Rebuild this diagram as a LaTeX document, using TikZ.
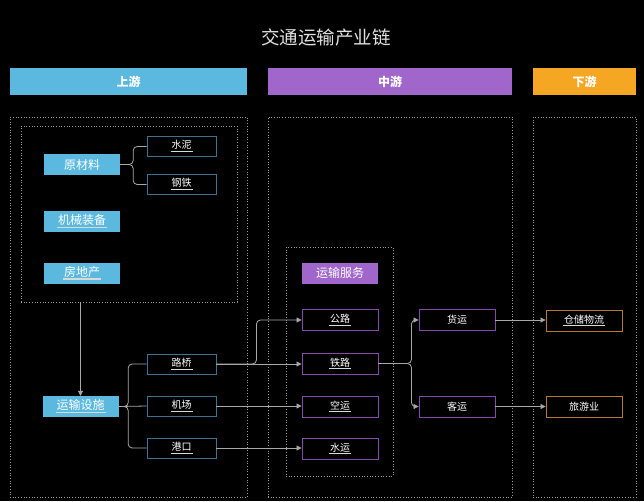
\documentclass[tikz,border=0pt]{standalone}
\usepackage{fontspec}
\setmainfont{Noto Sans CJK SC}
\usetikzlibrary{arrows.meta}
\definecolor{upc}{HTML}{5BB8DE}
\definecolor{midc}{HTML}{A066CC}
\definecolor{downc}{HTML}{F5A623}
\definecolor{upline}{HTML}{3B7391}
\definecolor{midline}{HTML}{8249AD}
\definecolor{downline}{HTML}{B57A2E}
\definecolor{conn}{HTML}{A8A8A8}
\definecolor{dotc}{HTML}{9A9A9A}
\newcommand\ulx[1]{\setbox0\hbox{#1}\leavevmode\rlap{\hspace{-1pt}\raisebox{-3.4pt}{\color{white!85!black}\rule{\dimexpr\wd0+2pt\relax}{1.4pt}}}\box0}
\tikzset{
  x=1pt,y=-1pt,
  bigtxt/.style={font=\fontsize{12}{12}\selectfont},
  smalltxt/.style={font=\fontsize{10}{10}\selectfont},
  bluebox/.style={fill=upc,text=white,minimum width=76,minimum height=21,inner sep=0,bigtxt},
  upbox/.style={draw=upline,line width=0.9pt,fill=black,text=white,minimum width=69,minimum height=20,inner sep=0,smalltxt},
  purplebox/.style={draw=midline,line width=0.9pt,fill=black,text=white,minimum width=76,minimum height=21,inner sep=0,smalltxt},
  orangebox/.style={draw=downline,line width=0.9pt,fill=black,text=white,minimum width=76,minimum height=21,inner sep=0,smalltxt},
  header/.style={text=white,minimum height=27,inner sep=0,font=\bfseries\fontsize{12}{12}\selectfont},
  dotbox/.style={draw=dotc,dotted,line width=0.7pt,inner sep=0},
  conline/.style={draw=conn,line width=0.8pt},
  arr/.style={conline,-{Triangle[length=5pt,width=5pt]}},
}
\begin{document}
\begin{tikzpicture}
\fill[black] (0,0) rectangle (644,501);
\useasboundingbox (0,0) rectangle (644,501);
% title
\node[text=white!88!black,font=\fontsize{18.5}{18.5}\selectfont] (title) at (326,37) {交通运输产业链};
% headers
\node[header,fill=upc,minimum width=237] (hup) at (128.5,81.5) {上游};
\node[header,fill=midc,minimum width=244] (hmid) at (390,81.5) {中游};
\node[header,fill=downc,minimum width=103] (hdown) at (584.5,81.5) {下游};
% column boxes
\node[dotbox,minimum width=237,minimum height=380] (colup) at (128.5,307) {};
\node[dotbox,minimum width=244,minimum height=380] (colmid) at (390,307) {};
\node[dotbox,minimum width=103,minimum height=380] (coldown) at (584.5,307) {};
\node[dotbox,minimum width=216,minimum height=176] (inbox) at (129,214) {};
\node[dotbox,minimum width=107,minimum height=229] (midbox) at (339.5,361.5) {};
% upstream nodes
\node[bluebox] (ycl) at (82,164.5) {原材料};
\node[upbox] (sn) at (181.5,146.5) {\ulx{水泥}};
\node[upbox] (gt) at (181.5,184.5) {\ulx{钢铁}};
\node[bluebox] (jxzb) at (82,221.5) {\ulx{机械装备}};
\node[bluebox] (fdc) at (82,273) {\ulx{房地产}};
\node[bluebox] (yssh) at (80.5,406.5) {\ulx{运输设施}};
\node[upbox] (lq) at (181.5,364) {\ulx{路桥}};
\node[upbox] (jc) at (181.5,406) {\ulx{机场}};
\node[upbox] (gk) at (181.5,448) {\ulx{港口}};
% midstream nodes
\node[fill=midc,text=white,minimum width=76,minimum height=21,inner sep=0,bigtxt] (ysfw) at (340,273) {运输服务};
\node[purplebox] (gl) at (340,320) {\ulx{公路}};
\node[purplebox] (tl) at (340,363.5) {\ulx{铁路}};
\node[purplebox] (ky) at (340,406.5) {\ulx{空运}};
\node[purplebox] (sy) at (340,448.5) {\ulx{水运}};
\node[purplebox] (hy) at (457,320) {货运};
\node[purplebox] (kyun) at (457,406.5) {客运};
% downstream nodes
\node[orangebox] (ccwl) at (584,320.5) {\ulx{仓储物流}};
\node[orangebox] (lyy) at (584,406.5) {旅游业};
% connectors
\draw[conline,rounded corners=4pt] (ycl.east) -- ++(13,0) |- (sn.west);
\draw[conline,rounded corners=4pt] (ycl.east) -- ++(13,0) |- (gt.west);
\draw[arr] (yssh|-inbox.south) -- (yssh.north);
\draw[conline,rounded corners=4pt] (yssh.east) -- ++(9.5,0) |- (lq.west);
\draw[conline,rounded corners=4pt] (yssh.east) -- ++(9.5,0) |- (gk.west);
\draw[conline] (yssh.east) -- (jc.west);
\draw[arr] (lq.east) -- (tl.west|-lq.east);
\draw[arr,rounded corners=4pt] (lq.east) -- ++(40,0) |- (gl.west);
\draw[arr] (jc.east) -- (ky.west|-jc.east);
\draw[arr] (gk.east) -- (sy.west|-gk.east);
\draw[arr,rounded corners=4pt] (tl.east) -- ++(33,0) |- (hy.west);
\draw[arr,rounded corners=4pt] (tl.east) -- ++(33,0) |- (kyun.west);
\draw[arr] (hy.east) -- (ccwl.west|-hy.east);
\draw[arr] (kyun.east) -- (lyy.west|-kyun.east);
\end{tikzpicture}
\end{document}
